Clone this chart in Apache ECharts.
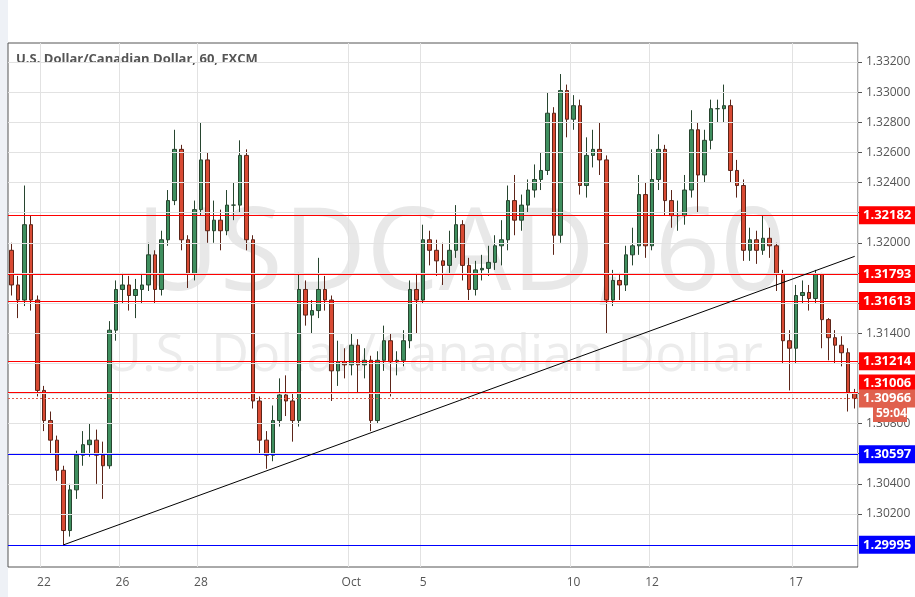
<!DOCTYPE html>
<html>
<head>
<meta charset="utf-8">
<script src="https://cdn.jsdelivr.net/npm/echarts@6/dist/echarts.min.js"></script>
<style>
html,body{margin:0;padding:0;background:#fff;}
#chart{width:915px;height:597px;}
</style>
</head>
<body>
<div id="chart"></div>
<script>
// USDCAD hourly (approx.)
var firstOpen = 1.3195;
var closes = [1.3172,1.3162,1.3212,1.3162,1.3102,1.3082,1.3069,1.3049,1.3009,1.3036,
    1.3059,1.3066,1.3069,1.3059,1.3052,1.3142,1.3169,1.3172,1.3165,1.3169,
    1.3172,1.3192,1.3169,1.3202,1.3228,1.3262,1.3202,1.3179,1.3222,1.3255,
    1.3208,1.3215,1.3208,1.3225,1.3225,1.3258,1.3202,1.3095,1.3069,1.3059,
    1.3082,1.3099,1.3095,1.3082,1.3169,1.3152,1.3155,1.3169,1.3162,1.3115,
    1.3121,1.3119,1.3132,1.3119,1.3122,1.3082,1.3122,1.3135,1.3121,1.3122,
    1.3135,1.3169,1.3162,1.3202,1.3195,1.3188,1.3185,1.3195,1.3212,1.3185,
    1.3169,1.3182,1.3183,1.3187,1.3198,1.3202,1.3228,1.3215,1.3225,1.3235,
    1.3242,1.3248,1.3286,1.3205,1.3301,1.3282,1.3291,1.3238,1.3258,1.3262,
    1.3255,1.3162,1.3175,1.3172,1.3192,1.3198,1.3232,1.3198,1.3242,1.3262,
    1.3228,1.3218,1.3218,1.3235,1.3275,1.3245,1.3268,1.3289,1.3289,1.3291,
    1.3248,1.3238,1.3195,1.3202,1.3195,1.3203,1.3198,1.3179,1.3135,1.3130,
    1.3165,1.3167,1.3163,1.3179,1.3149,1.3137,1.3132,1.3127,1.3100,1.30966];
var highs = [1.3200,1.3178,1.3238,1.3218,1.3165,1.3105,1.3088,1.3072,1.3052,1.3040,
    1.3062,1.3075,1.3080,1.3076,1.3068,1.3148,1.3175,1.3180,1.3178,1.3176,
    1.3180,1.3200,1.3195,1.3208,1.3235,1.3275,1.3265,1.3205,1.3228,1.3280,
    1.3260,1.3228,1.3222,1.3235,1.3240,1.3268,1.3262,1.3205,1.3098,1.3075,
    1.3092,1.3110,1.3112,1.3100,1.3180,1.3175,1.3162,1.3190,1.3178,1.3165,
    1.3135,1.3130,1.3140,1.3136,1.3130,1.3125,1.3128,1.3145,1.3140,1.3128,
    1.3142,1.3175,1.3180,1.3212,1.3208,1.3202,1.3200,1.3208,1.3225,1.3215,
    1.3190,1.3188,1.3192,1.3198,1.3205,1.3215,1.3238,1.3245,1.3232,1.3242,
    1.3252,1.3260,1.3300,1.3290,1.3312,1.3305,1.3298,1.3295,1.3270,1.3275,
    1.3280,1.3258,1.3182,1.3180,1.3198,1.3210,1.3245,1.3240,1.3262,1.3272,
    1.3265,1.3235,1.3228,1.3245,1.3288,1.3280,1.3275,1.3295,1.3295,1.3305,
    1.3295,1.3255,1.3242,1.3210,1.3208,1.3218,1.3210,1.3200,1.3182,1.3142,
    1.3172,1.3175,1.3172,1.3182,1.3180,1.3150,1.3142,1.3138,1.3130,1.3103];
var lows = [1.3165,1.3150,1.3158,1.3155,1.3098,1.3075,1.3060,1.3042,1.2999,1.3005,
    1.3030,1.3052,1.3058,1.3040,1.3030,1.3050,1.3135,1.3160,1.3155,1.3150,
    1.3160,1.3168,1.3160,1.3165,1.3198,1.3225,1.3195,1.3170,1.3175,1.3218,
    1.3200,1.3200,1.3195,1.3205,1.3215,1.3220,1.3195,1.3090,1.3060,1.3050,
    1.3055,1.3078,1.3085,1.3068,1.3078,1.3145,1.3140,1.3150,1.3155,1.3095,
    1.3105,1.3110,1.3112,1.3100,1.3110,1.3075,1.3080,1.3115,1.3098,1.3112,
    1.3118,1.3130,1.3140,1.3160,1.3185,1.3178,1.3172,1.3180,1.3190,1.3175,
    1.3162,1.3165,1.3175,1.3178,1.3182,1.3185,1.3195,1.3205,1.3208,1.3220,
    1.3230,1.3235,1.3245,1.3192,1.3200,1.3270,1.3275,1.3232,1.3230,1.3250,
    1.3245,1.3140,1.3158,1.3162,1.3168,1.3185,1.3192,1.3190,1.3195,1.3235,
    1.3218,1.3210,1.3208,1.3212,1.3230,1.3220,1.3240,1.3262,1.3280,1.3280,
    1.3240,1.3230,1.3188,1.3188,1.3186,1.3192,1.3190,1.3168,1.3120,1.3102,
    1.3120,1.3160,1.3155,1.3160,1.3130,1.3122,1.3120,1.3118,1.3088,1.3090];
// date labels by candle index
var dateLabels = {5:'22', 17:'26', 29:'28', 52:'Oct', 63:'5', 86:'10', 98:'12', 120:'17'};
var redLevels = [1.32182, 1.31793, 1.31613, 1.31214, 1.31006];
var blueLevels = [1.30597, 1.29995];
var lastPrice = 1.30966;
var priceTicks = [1.302,1.304,1.306,1.308,1.310,1.312,1.314,1.316,1.318,1.320,1.322,1.324,1.326,1.328,1.330,1.332];
var trendStart = [8, 1.29995], trendEnd = [129, 1.3191];

var categories = [], ohlc = [], blanks = [];
var prev = firstOpen;
for (var i = 0; i < closes.length; i++) {
    categories.push(dateLabels[i] || '');
    ohlc.push([prev, closes[i], lows[i], highs[i]]);
    blanks.push('-');
    prev = closes[i];
}
var showIdx = function (idx) { return dateLabels[idx] !== undefined; };

var fmt = function (p) { return p.value.toFixed(5); };
function levelSeries(values, color, type, offsets, z) {
    return {
        type: 'line', data: blanks, symbol: 'none', silent: true, z: z,
        markLine: {
            silent: true, symbol: 'none', precision: 5, animation: false,
            lineStyle: {color: color, width: 1, type: type},
            label: {position: 'end', color: '#fff', fontWeight: 'bold', fontSize: 13, fontFamily: 'Open Sans',
                backgroundColor: color, padding: [3, 4, 2, 4], distance: 1, formatter: fmt},
            data: values.map(function (v, k) {
                return {yAxis: v, label: {offset: [0, offsets ? offsets[k] : 0]}};
            })
        }
    };
}

var chart = echarts.init(document.getElementById('chart'));
chart.setOption({
    animation: false,
    backgroundColor: '#fff',
    grid: {left: 8, right: 57, top: 43, bottom: 30, show: true, borderColor: '#555', borderWidth: 1},
    graphic: [
        {type: 'rect', left: 0, top: 0, shape: {width: 8, height: 597}, style: {fill: '#eef1f6'}, z: -1},
        {type: 'text', left: 136, top: 200, z: -1, style: {text: 'USDCAD, 60', font: '115px "Open Sans", sans-serif', fill: '#e8e8e8'}},
        {type: 'text', left: 104, top: 330, z: -1, style: {text: 'U.S. Dollar/Canadian Dollar', font: '52px "Open Sans", sans-serif', fill: '#ececec'}},
        {type: 'text', left: 16, top: 53, style: {text: 'U.S. Dollar/Canadian Dollar, 60, FXCM', font: 'bold 13px "Open Sans", sans-serif', fill: '#555'}},
        {type: 'rect', left: 873, top: 407, shape: {width: 34, height: 15}, style: {fill: '#e0604d'}, z: 10},
        {type: 'text', left: 876, top: 408, z: 11, style: {text: '59:04', font: 'bold 12px "Open Sans", sans-serif', fill: '#fff'}}
    ],
    xAxis: {
        type: 'category', data: categories, boundaryGap: true,
        axisLine: {show: false},
        axisTick: {show: false},
        axisLabel: {interval: showIdx, color: '#555', fontSize: 12, fontFamily: 'Open Sans', margin: 10},
        splitLine: {show: true, interval: showIdx, lineStyle: {color: '#e2e2e2'}}
    },
    yAxis: {
        type: 'value', position: 'right', min: 1.29848, max: 1.33326, scale: true,
        axisLine: {show: false},
        axisTick: {show: true, customValues: priceTicks, length: 4, lineStyle: {color: '#555'}},
        axisLabel: {customValues: priceTicks, color: '#555', fontSize: 12, fontFamily: 'Open Sans',
            margin: 8, formatter: function (v) { return v.toFixed(5); }},
        splitLine: {show: false}
    },
    series: [{
        type: 'line', data: blanks, symbol: 'none', z: 0, silent: true,
        markLine: {
            silent: true, symbol: 'none', label: {show: false}, precision: 5,
            lineStyle: {color: '#e2e2e2', width: 1, type: 'solid'},
            data: priceTicks.map(function (v) { return {yAxis: v}; })
        }
    },
    levelSeries(redLevels, '#ff0000', 'solid', [0, 0, 0, 0, -9], 3),
    levelSeries(blueLevels, '#0000ff', 'solid', null, 3),
    levelSeries([lastPrice], '#e0604d', [2, 2], [0], 4),
    {
        type: 'line', data: blanks, symbol: 'none', silent: true, z: 3,
        markLine: {
            silent: true, symbol: 'none', precision: 5, label: {show: false},
            lineStyle: {color: '#000', width: 1, type: 'solid'},
            data: [[{coord: trendStart}, {coord: trendEnd}]]
        }
    }, {
        type: 'candlestick',
        data: ohlc,
        barWidth: '62%', z: 2,
        itemStyle: {color: '#3f8f5f', color0: '#d84a33', borderColor: '#27452f', borderColor0: '#5c2418', borderWidth: 1}
    }]
});
</script>
</body>
</html>
